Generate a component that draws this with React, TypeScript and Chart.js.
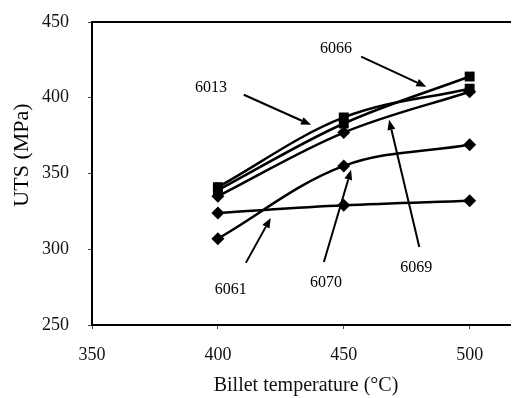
import React, { useEffect, useRef } from "react";
import { Chart, registerables } from "chart.js";

Chart.register(...registerables);

// ---- data ----
const temperatures = [400, 450, 500];
const alloy6013 = [341, 387, 406];
const alloy6066 = [339, 383, 414];
const alloy6069 = [335, 377, 404];
const alloy6070 = [307, 355, 369];
const alloy6061 = [324, 329, 332];
const xTicks = [350, 400, 450, 500];
const yTicks = [250, 300, 350, 400, 450];

// annotation labels (data units): text, label position, arrow start, arrow tip
const labelNames = ["6013", "6066", "6069", "6070", "6061"];
const labelX = [397.3, 446.9, 478.8, 442.9, 405.1];
const labelY = [406.6, 432.4, 287.6, 277.7, 273.0];
const arrowFromX = [410.3, 456.9, 480.0, 442.1, 411.1];
const arrowFromY = [402.0, 427.1, 301.5, 291.6, 291.0];
const arrowToX = [437.0, 482.8, 468.0, 452.9, 421.0];
const arrowToY = [382.1, 407.2, 385.4, 352.4, 320.7];

const FONT = "'Liberation Serif', 'Times New Roman', serif";

function pts(vals: number[]) {
  return temperatures.map((t, i) => ({ x: t, y: vals[i] }));
}

const annotationPlugin = {
  id: "annotations",
  afterDatasetsDraw(chart: any) {
    const { ctx, chartArea, scales } = chart;
    const xs = scales.x;
    const ys = scales.y;
    ctx.save();
    // top frame line
    ctx.strokeStyle = "#000";
    ctx.lineWidth = 2;
    ctx.beginPath();
    ctx.moveTo(chartArea.left - 1, chartArea.top);
    ctx.lineTo(chartArea.right + 10, chartArea.top);
    ctx.stroke();

    ctx.fillStyle = "#000";
    ctx.font = `16px ${FONT}`;
    ctx.textAlign = "center";
    ctx.textBaseline = "middle";
    for (let i = 0; i < labelNames.length; i++) {
      ctx.fillText(labelNames[i], xs.getPixelForValue(labelX[i]), ys.getPixelForValue(labelY[i]));
      const x0 = xs.getPixelForValue(arrowFromX[i]);
      const y0 = ys.getPixelForValue(arrowFromY[i]);
      const x1 = xs.getPixelForValue(arrowToX[i]);
      const y1 = ys.getPixelForValue(arrowToY[i]);
      const ang = Math.atan2(y1 - y0, x1 - x0);
      const hl = 10;
      const hw = 4;
      const bx = x1 - hl * Math.cos(ang);
      const by = y1 - hl * Math.sin(ang);
      ctx.lineWidth = 2;
      ctx.beginPath();
      ctx.moveTo(x0, y0);
      ctx.lineTo(bx, by);
      ctx.stroke();
      ctx.beginPath();
      ctx.moveTo(x1, y1);
      ctx.lineTo(bx + hw * Math.sin(ang), by - hw * Math.cos(ang));
      ctx.lineTo(bx - hw * Math.sin(ang), by + hw * Math.cos(ang));
      ctx.closePath();
      ctx.fill();
    }
    // y axis title
    ctx.font = `22px ${FONT}`;
    ctx.translate(14, 147);
    ctx.rotate(-Math.PI / 2);
    ctx.fillText("UTS (MPa)", 0, 0);
    ctx.restore();
  },
};

export default function App() {
  const ref = useRef<HTMLCanvasElement | null>(null);
  useEffect(() => {
    if (!ref.current) return;
    const mk = (label: string, vals: number[], style: string, r: number) => ({
      label,
      data: pts(vals),
      borderColor: "#000",
      backgroundColor: "#000",
      borderWidth: 2.5,
      pointStyle: style,
      pointRadius: r,
      pointBorderWidth: 0,
      tension: 0.35,
    });
    const chart = new Chart(ref.current, {
      type: "line",
      data: {
        datasets: [
          mk("6013", alloy6013, "rect", 7),
          mk("6066", alloy6066, "rect", 7),
          mk("6069", alloy6069, "rectRot", 6.5),
          mk("6070", alloy6070, "rectRot", 6.5),
          mk("6061", alloy6061, "rectRot", 6.5),
        ] as any,
      },
      options: {
        animation: false,
        responsive: true,
        maintainAspectRatio: false,
        layout: { padding: { top: 14, left: 0, right: 0, bottom: 0 } },
        plugins: {
          legend: { display: false },
          tooltip: { enabled: false },
        },
        scales: {
          x: {
            type: "linear",
            min: 350,
            max: 520,
            afterBuildTicks: (s: any) => {
              s.ticks = xTicks.map((v) => ({ value: v }));
            },
            afterFit: (s: any) => {
              s.height = 73;
              s.paddingLeft = 0;
              s.paddingRight = 0;
            },
            ticks: {
              font: { family: FONT, size: 18 },
              color: "#111",
              padding: 15,
              maxRotation: 0,
            },
            grid: { drawOnChartArea: false, tickLength: 4, color: "#444" },
            border: { color: "#000", width: 2 },
            title: {
              display: true,
              text: "Billet temperature (°C)",
              font: { family: FONT, size: 20 },
              color: "#111",
              padding: { top: 0, bottom: 0 },
            },
          },
          y: {
            type: "linear",
            min: 250,
            max: 450,
            afterBuildTicks: (s: any) => {
              s.ticks = yTicks.map((v) => ({ value: v }));
            },
            afterFit: (s: any) => {
              s.width = 84;
              s.paddingTop = 0;
              s.paddingBottom = 0;
            },
            ticks: {
              font: { family: FONT, size: 18 },
              color: "#111",
              padding: 19,
            },
            grid: { drawOnChartArea: false, tickLength: 4, color: "#444" },
            border: { color: "#000", width: 2 },
          },
        },
      },
      plugins: [annotationPlugin],
    });
    return () => chart.destroy();
  }, []);
  return (
    <div style={{ width: 511, height: 390, overflow: "hidden" }}>
      <div style={{ position: "relative", width: 519, height: 390 }}>
        <canvas ref={ref} />
      </div>
    </div>
  );
}
